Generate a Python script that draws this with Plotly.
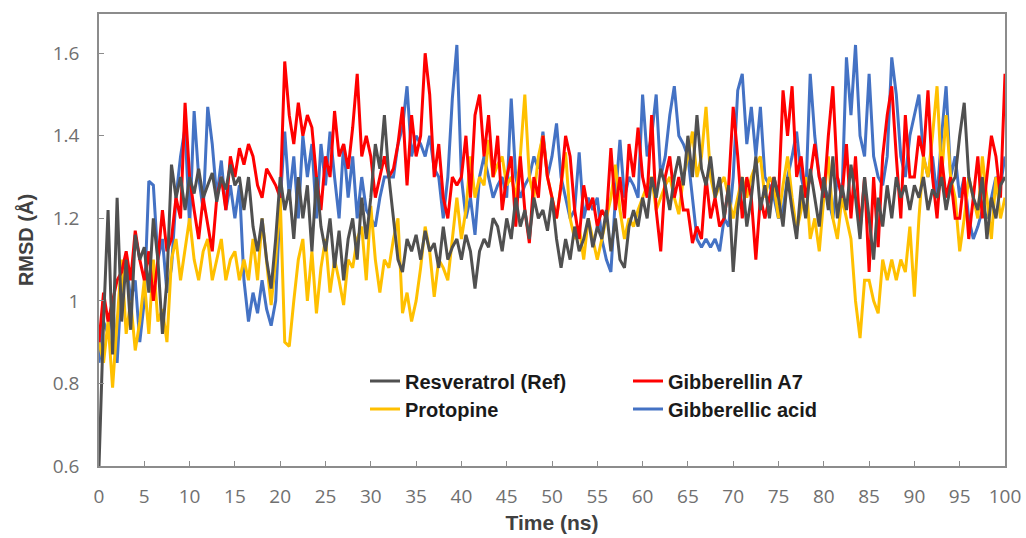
import numpy as np
import plotly.graph_objects as go

time_ns = [i * 0.5 for i in range(201)]

resveratrol = [
    0.60, 0.95, 1.22, 0.87, 1.25, 0.95, 1.10, 0.93, 1.16, 1.10,
    1.13, 1.02, 1.20, 1.10, 0.92, 1.05, 1.33, 1.25, 1.30, 1.22,
    1.30, 1.26, 1.32, 1.25, 1.28, 1.31, 1.24, 1.30, 1.27, 1.33,
    1.28, 1.30, 1.22, 1.30, 1.18, 1.12, 1.20, 1.10, 1.03, 1.15,
    1.30, 1.22, 1.27, 1.15, 1.30, 1.20, 1.28, 1.12, 1.30, 1.18,
    1.12, 1.20, 1.08, 1.17, 1.05, 1.15, 1.20, 1.10, 1.25, 1.15,
    1.25, 1.38, 1.32, 1.45, 1.30, 1.20, 1.10, 1.07, 1.15, 1.12,
    1.16, 1.10, 1.17, 1.12, 1.14, 1.08, 1.18, 1.10, 1.13, 1.15,
    1.10, 1.16, 1.12, 1.03, 1.12, 1.15, 1.13, 1.20, 1.18, 1.12,
    1.20, 1.15, 1.25, 1.18, 1.22, 1.15, 1.25, 1.20, 1.22, 1.17,
    1.25, 1.15, 1.08, 1.15, 1.10, 1.18, 1.12, 1.15, 1.20, 1.13,
    1.18, 1.15, 1.22, 1.12, 1.20, 1.10, 1.08, 1.18, 1.22, 1.18,
    1.25, 1.20, 1.30, 1.25, 1.32, 1.28, 1.22, 1.30, 1.35, 1.28,
    1.40, 1.30, 1.45, 1.32, 1.28, 1.35, 1.25, 1.30, 1.20, 1.28,
    1.07, 1.22, 1.30, 1.18, 1.25, 1.35, 1.22, 1.28, 1.20, 1.30,
    1.25, 1.18, 1.30, 1.22, 1.15, 1.28, 1.20, 1.32, 1.25, 1.18,
    1.30, 1.22, 1.35, 1.20, 1.28, 1.22, 1.33, 1.25, 1.15, 1.30,
    1.20, 1.10, 1.25, 1.18, 1.28, 1.20, 1.30, 1.25, 1.28, 1.22,
    1.28, 1.25, 1.30, 1.22, 1.27, 1.25, 1.30, 1.22, 1.28, 1.30,
    1.40, 1.48, 1.30, 1.25, 1.22, 1.30, 1.15, 1.25, 1.20, 1.28,
    1.30,
]

gibberellin_a7 = [
    0.90, 1.02, 0.95, 1.00, 1.05, 1.07, 1.12, 1.05, 1.17, 1.10,
    1.05, 1.12, 1.00, 1.10, 1.22, 1.12, 1.15, 1.25, 1.20, 1.48,
    1.30, 1.22, 1.15, 1.25, 1.18, 1.12, 1.25, 1.30, 1.22, 1.35,
    1.30, 1.37, 1.33, 1.38, 1.35, 1.28, 1.25, 1.32, 1.30, 1.28,
    1.25, 1.58, 1.45, 1.38, 1.48, 1.40, 1.45, 1.42, 1.30, 1.22,
    1.35, 1.30, 1.46, 1.35, 1.38, 1.32, 1.42, 1.55, 1.35, 1.40,
    1.35, 1.25, 1.30, 1.35, 1.30, 1.32, 1.38, 1.47, 1.28, 1.45,
    1.35, 1.40, 1.60, 1.50, 1.30, 1.38, 1.25, 1.20, 1.30, 1.28,
    1.30, 1.40, 1.25, 1.45, 1.50, 1.35, 1.45, 1.30, 1.40, 1.22,
    1.30, 1.35, 1.18, 1.35, 1.22, 1.14, 1.30, 1.25, 1.40, 1.30,
    1.25, 1.20, 1.28, 1.40, 1.35, 1.22, 1.15, 1.28, 1.22, 1.25,
    1.18, 1.22, 1.20, 1.37, 1.22, 1.30, 1.20, 1.38, 1.30, 1.42,
    1.30, 1.25, 1.45, 1.22, 1.12, 1.30, 1.35, 1.25, 1.30, 1.22,
    1.22, 1.14, 1.18, 1.15, 1.30, 1.20, 1.25, 1.18, 1.20, 1.28,
    1.47, 1.35, 1.20, 1.30, 1.25, 1.10, 1.25, 1.20, 1.25, 1.30,
    1.25, 1.51, 1.40, 1.52, 1.30, 1.35, 1.25, 1.30, 1.38, 1.30,
    1.25, 1.40, 1.52, 1.30, 1.25, 1.38, 1.20, 1.35, 1.17, 1.30,
    1.07, 1.30, 1.13, 1.35, 1.45, 1.52, 1.35, 1.20, 1.45, 1.30,
    1.30, 1.40, 1.35, 1.51, 1.30, 1.20, 1.35, 1.25, 1.30, 1.20,
    1.20, 1.30, 1.15, 1.25, 1.35, 1.20, 1.30, 1.40, 1.35, 1.25,
    1.55,
]

protopine = [
    0.90, 0.85, 0.95, 0.79, 0.95, 1.10, 0.92, 1.00, 0.88, 0.95,
    1.05, 0.92, 1.10, 0.95, 0.98, 0.90, 1.10, 1.15, 1.05, 1.12,
    1.20, 1.10, 1.05, 1.12, 1.15, 1.05, 1.10, 1.15, 1.05, 1.10,
    1.12, 1.05, 1.10, 1.05, 1.15, 1.05, 1.20, 1.10, 0.99, 1.10,
    1.25, 0.90, 0.89, 1.00, 1.10, 1.15, 1.00, 1.12, 0.97, 1.08,
    1.15, 1.02, 1.10, 1.05, 0.99, 1.10, 1.08, 1.15, 1.18, 1.05,
    1.23, 1.10, 1.02, 1.10, 1.08, 1.15, 1.20, 0.97, 1.02, 0.95,
    1.00, 1.08, 1.18, 1.12, 1.01, 1.10, 1.08, 1.05, 1.15, 1.25,
    1.15, 1.22, 1.35, 1.25, 1.30, 1.28, 1.39, 1.30, 1.33, 1.35,
    1.28, 1.30, 1.25, 1.35, 1.50, 1.30, 1.25, 1.35, 1.40, 1.30,
    1.25, 1.20, 1.28, 1.36, 1.20, 1.15, 1.18, 1.10, 1.20, 1.15,
    1.10, 1.15, 1.20, 1.25, 1.33, 1.22, 1.15, 1.20, 1.18, 1.22,
    1.25, 1.28, 1.30, 1.22, 1.25, 1.28, 1.30, 1.25, 1.21, 1.30,
    1.35, 1.41, 1.30, 1.35, 1.47, 1.30, 1.25, 1.28, 1.30, 1.25,
    1.20, 1.25, 1.30, 1.25, 1.30, 1.33, 1.35, 1.25, 1.30, 1.28,
    1.20, 1.28, 1.35, 1.25, 1.17, 1.22, 1.30, 1.15, 1.20, 1.12,
    1.25, 1.35, 1.20, 1.15, 1.25, 1.20, 1.15, 1.00, 0.91, 1.05,
    1.05, 1.00, 0.97, 1.10, 1.05, 1.10, 1.05, 1.10, 1.07, 1.18,
    1.01, 1.20, 1.35, 1.30, 1.40, 1.52, 1.30, 1.45, 1.30, 1.25,
    1.12, 1.20, 1.30, 1.25, 1.20, 1.35, 1.25, 1.15, 1.30, 1.20,
    1.25,
]

gibberellic_acid = [
    0.85, 0.95, 0.92, 1.00, 0.85, 1.05, 1.10, 1.00, 1.05, 0.90,
    1.00, 1.29, 1.28, 1.10, 1.15, 1.02, 1.08, 1.25, 1.35, 1.42,
    1.18, 1.46, 1.30, 1.22, 1.47, 1.38, 1.25, 1.34, 1.22, 1.28,
    1.20, 1.28, 1.05, 0.95, 1.02, 0.97, 1.05, 0.98, 0.94, 1.00,
    1.24, 1.41, 1.25, 1.35, 1.20, 1.40, 1.30, 1.38, 1.20, 1.38,
    1.28, 1.41, 1.30, 1.20, 1.38, 1.25, 1.35, 1.20, 1.30, 1.22,
    1.20, 1.18, 1.25, 1.30, 1.30, 1.30, 1.38, 1.42, 1.52, 1.35,
    1.40, 1.38, 1.35, 1.40, 1.32, 1.30, 1.20, 1.30, 1.49, 1.62,
    1.30, 1.20, 1.25, 1.16, 1.30, 1.35, 1.30, 1.25, 1.28, 1.30,
    1.25, 1.49, 1.30, 1.25, 1.28, 1.30, 1.35, 1.32, 1.41, 1.30,
    1.35, 1.43, 1.30, 1.25, 1.20, 1.22, 1.36, 1.20, 1.25, 1.22,
    1.25, 1.15, 1.10, 1.07, 1.25, 1.39, 1.25, 1.30, 1.28, 1.25,
    1.50, 1.35, 1.40, 1.50, 1.30, 1.35, 1.45, 1.52, 1.40, 1.38,
    1.35, 1.25, 1.15, 1.13, 1.15, 1.13, 1.15, 1.12, 1.20, 1.18,
    1.30, 1.51, 1.55, 1.38, 1.47, 1.35, 1.47, 1.30, 1.28, 1.25,
    1.20, 1.22, 1.30, 1.35, 1.41, 1.30, 1.25, 1.55, 1.40, 1.30,
    1.28, 1.25, 1.20, 1.30, 1.25, 1.59, 1.45, 1.62, 1.40, 1.35,
    1.55, 1.35, 1.30, 1.28, 1.35, 1.59, 1.50, 1.35, 1.30, 1.40,
    1.45, 1.50, 1.35, 1.30, 1.35, 1.25, 1.40, 1.52, 1.30, 1.35,
    1.25, 1.30, 1.20, 1.15, 1.18, 1.22, 1.20, 1.25, 1.30, 1.28,
    1.35,
]

x_ticks = list(range(0, 101, 5))
y_ticks = [0.6, 0.8, 1.0, 1.2, 1.4, 1.6]
y_tick_text = ["0.6", "0.8", "1", "1.2", "1.4", "1.6"]

LW = 3

fig = go.Figure()
# drawing order: blue, yellow, red, gray (gray on top)
fig.add_trace(go.Scatter(x=time_ns, y=gibberellic_acid, mode="lines", name="Gibberellic acid",
                         line=dict(color="#4472C4", width=LW), legend="legend2", legendrank=2))
fig.add_trace(go.Scatter(x=time_ns, y=protopine, mode="lines", name="Protopine",
                         line=dict(color="#FFC000", width=LW), legend="legend2", legendrank=1))
fig.add_trace(go.Scatter(x=time_ns, y=gibberellin_a7, mode="lines", name="Gibberellin A7",
                         line=dict(color="#FF0000", width=LW), legend="legend", legendrank=2))
fig.add_trace(go.Scatter(x=time_ns, y=resveratrol, mode="lines", name="Resveratrol (Ref)",
                         line=dict(color="#505050", width=LW), legend="legend", legendrank=1))

axis_color = "#8c8c8c"
tick_font = dict(family="Open Sans", size=19, color="#707070")
legend_common = dict(orientation="h", xanchor="left", yanchor="middle",
                     bgcolor="rgba(0,0,0,0)", entrywidth=218, entrywidthmode="pixels",
                     font=dict(family="Liberation Sans", size=20, color="#1a1a1a", weight="bold"),
                     itemwidth=30, traceorder="normal")

fig.update_layout(
    width=1026, height=538,
    margin=dict(l=99, r=21, t=14, b=72, autoexpand=False),
    paper_bgcolor="white", plot_bgcolor="white",
    showlegend=True,
    legend=dict(x=(365 - 99) / 906, y=(466 - 381) / 452, **legend_common),
    legend2=dict(x=(365 - 99) / 906, y=(466 - 409) / 452, **legend_common),
    xaxis=dict(range=[0, 100], tickvals=x_ticks, ticks="inside", ticklen=5, tickcolor=axis_color,
               showline=True, linecolor=axis_color, linewidth=1.5, mirror=True, automargin=False,
               showgrid=False, zeroline=False, tickfont=tick_font, ticklabelstandoff=12,
               title=dict(text="<b>Time (ns)</b>", font=dict(family="Liberation Sans", size=21, color="#404040"),
                          standoff=8)),
    yaxis=dict(range=[0.6, 1.695], tickvals=y_ticks, ticktext=y_tick_text, ticks="inside", ticklen=5,
               tickcolor=axis_color, showline=True, linecolor=axis_color, linewidth=1.5, mirror=True,
               automargin=False,
               showgrid=False, zeroline=False, tickfont=tick_font, ticklabelstandoff=14,
               title=dict(text="<b>RMSD (Å)</b>", font=dict(family="Liberation Sans", size=20, color="#404040"),
                          standoff=14)),
)

fig.write_html("out.html")
